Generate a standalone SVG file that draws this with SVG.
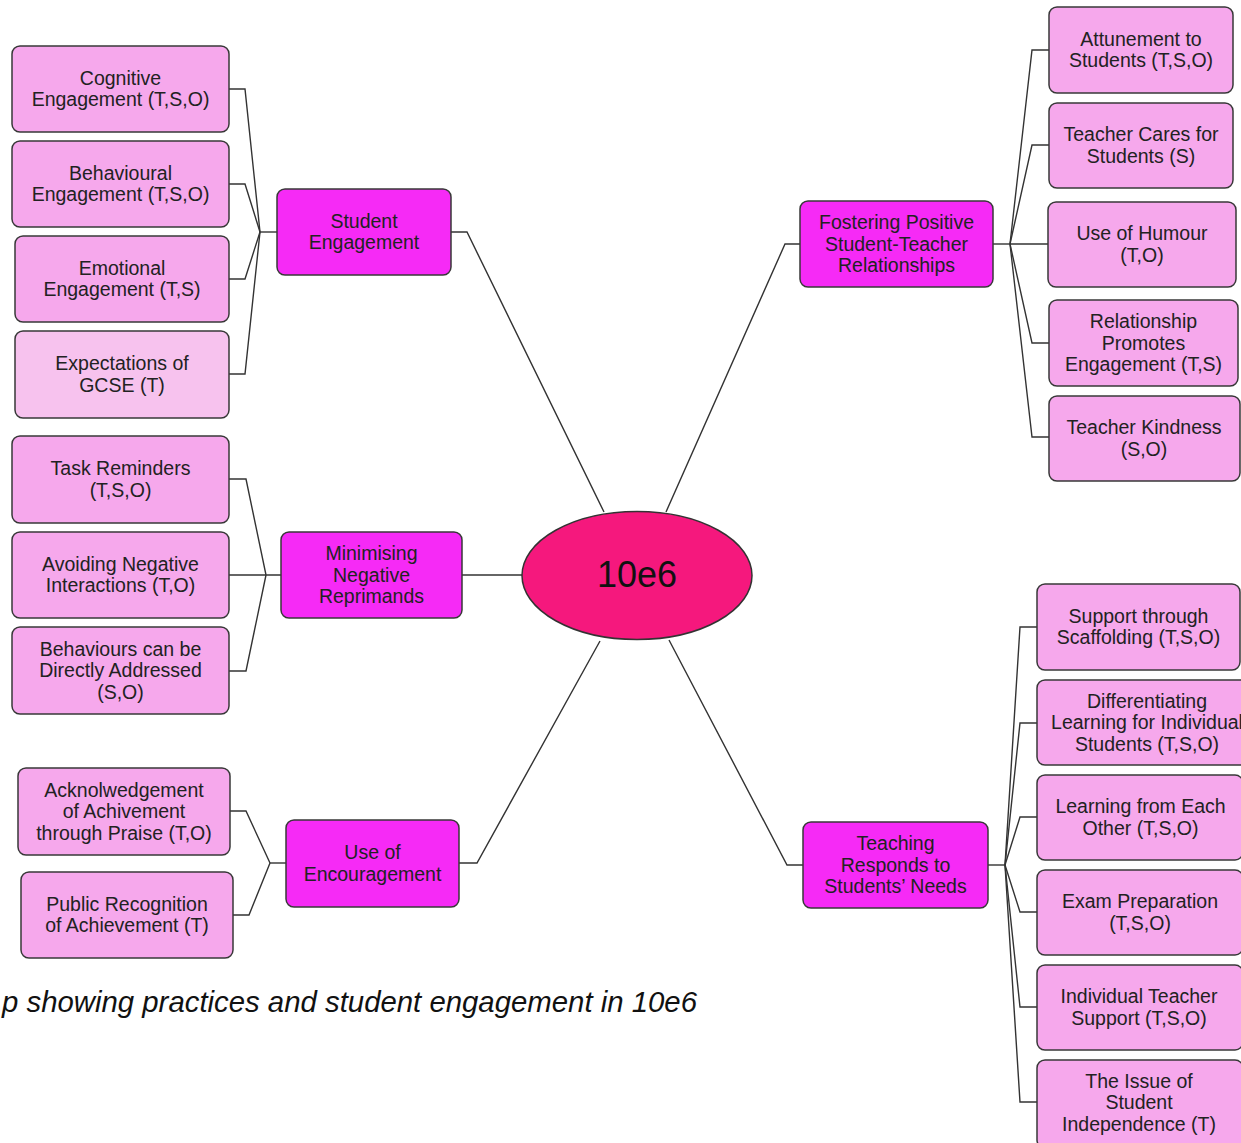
<svg xmlns="http://www.w3.org/2000/svg" width="1241" height="1143" viewBox="0 0 1241 1143">
<style>
.leaf{fill:#f6a8ec;stroke:#383838;stroke-width:1.5}
.leaf2{fill:#f7c2ee;stroke:#383838;stroke-width:1.5}
.main{fill:#f62af6;stroke:#383838;stroke-width:1.5}
.t{font-family:"Liberation Sans",Arial,Helvetica,sans-serif;font-size:19.5px;fill:#222;text-anchor:middle}
.conn path{fill:none;stroke:#333;stroke-width:1.4}
</style>
<rect width="1241" height="1143" fill="#ffffff"/>
<g class="conn" id="connectors">
<path d="M229,89 H245 L260,232"/>
<path d="M229,184 H245 L260,232"/>
<path d="M229,279 H245 L260,232"/>
<path d="M229,374 H245 L260,232"/>
<path d="M260,232 H277"/>
<path d="M451,232 H467 L604,512"/>
<path d="M993,244 H1010"/>
<path d="M1010,244 L1032,50 H1049"/>
<path d="M1010,244 L1032,145 H1049"/>
<path d="M1010,244 H1048"/>
<path d="M1010,244 L1032,343 H1049"/>
<path d="M1010,244 L1032,437 H1049"/>
<path d="M800,244 H785 L666,512"/>
<path d="M229,479 H246 L266,575"/>
<path d="M229,575 H281"/>
<path d="M229,671 H246 L266,575"/>
<path d="M462,575 H522"/>
<path d="M230,811 H246 L270,863"/>
<path d="M233,915 H249 L270,863"/>
<path d="M270,863 H286"/>
<path d="M459,863 H477 L600,641"/>
<path d="M988,865 H1005"/>
<path d="M1005,865 L1020,627 H1037"/>
<path d="M1005,865 L1020,723 H1037"/>
<path d="M1005,865 L1020,817 H1037"/>
<path d="M1005,865 L1020,912 H1037"/>
<path d="M1005,865 L1020,1007 H1037"/>
<path d="M1005,865 L1020,1102 H1037"/>
<path d="M803,865 H787 L669,640"/>
</g>
<g id="center">
<ellipse cx="637" cy="575.5" rx="115" ry="64" fill="#f5187d" stroke="#333" stroke-width="1.5"/>
<text x="637" y="587" font-family="Liberation Sans,Arial,sans-serif" font-size="36" text-anchor="middle" fill="#111">10e6</text>
</g>
<g id="n-cognitive"><rect class="leaf" x="12" y="46" width="217" height="86" rx="8"/><text class="t" x="120.5" y="84.5">Cognitive<tspan x="120.5" dy="21.5">Engagement (T,S,O)</tspan></text></g>
<g id="n-behavioural"><rect class="leaf" x="12" y="141" width="217" height="86" rx="8"/><text class="t" x="120.5" y="179.5">Behavioural<tspan x="120.5" dy="21.5">Engagement (T,S,O)</tspan></text></g>
<g id="n-emotional"><rect class="leaf" x="15" y="236" width="214" height="86" rx="8"/><text class="t" x="122" y="274.5">Emotional<tspan x="122" dy="21.5">Engagement (T,S)</tspan></text></g>
<g id="n-expectations"><rect class="leaf2" x="15" y="331" width="214" height="87" rx="8"/><text class="t" x="122" y="370">Expectations of<tspan x="122" dy="21.5">GCSE (T)</tspan></text></g>
<g id="n-student-engagement"><rect class="main" x="277" y="189" width="174" height="86" rx="8"/><text class="t" x="364" y="227.5">Student<tspan x="364" dy="21.5">Engagement</tspan></text></g>
<g id="n-attunement"><rect class="leaf" x="1049" y="7" width="184" height="86" rx="8"/><text class="t" x="1141" y="45.5">Attunement to<tspan x="1141" dy="21.5">Students (T,S,O)</tspan></text></g>
<g id="n-cares"><rect class="leaf" x="1049" y="103" width="184" height="85" rx="8"/><text class="t" x="1141" y="141">Teacher Cares for<tspan x="1141" dy="21.5">Students (S)</tspan></text></g>
<g id="n-humour"><rect class="leaf" x="1048" y="202" width="188" height="85" rx="8"/><text class="t" x="1142" y="240">Use of Humour<tspan x="1142" dy="21.5">(T,O)</tspan></text></g>
<g id="n-relationship"><rect class="leaf" x="1049" y="300" width="189" height="86" rx="8"/><text class="t" x="1143.5" y="328">Relationship<tspan x="1143.5" dy="21.5">Promotes</tspan><tspan x="1143.5" dy="21.5">Engagement (T,S)</tspan></text></g>
<g id="n-kindness"><rect class="leaf" x="1049" y="396" width="191" height="85" rx="8"/><text class="t" x="1144" y="434">Teacher Kindness<tspan x="1144" dy="21.5">(S,O)</tspan></text></g>
<g id="n-fostering"><rect class="main" x="800" y="201" width="193" height="86" rx="8"/><text class="t" x="896.5" y="229">Fostering Positive<tspan x="896.5" dy="21.5">Student-Teacher</tspan><tspan x="896.5" dy="21.5">Relationships</tspan></text></g>
<g id="n-task"><rect class="leaf" x="12" y="436" width="217" height="87" rx="8"/><text class="t" x="120.5" y="475">Task Reminders<tspan x="120.5" dy="21.5">(T,S,O)</tspan></text></g>
<g id="n-avoiding"><rect class="leaf" x="12" y="532" width="217" height="86" rx="8"/><text class="t" x="120.5" y="570.5">Avoiding Negative<tspan x="120.5" dy="21.5">Interactions (T,O)</tspan></text></g>
<g id="n-behaviours"><rect class="leaf" x="12" y="627" width="217" height="87" rx="8"/><text class="t" x="120.5" y="655.5">Behaviours can be<tspan x="120.5" dy="21.5">Directly Addressed</tspan><tspan x="120.5" dy="21.5">(S,O)</tspan></text></g>
<g id="n-minimising"><rect class="main" x="281" y="532" width="181" height="86" rx="8"/><text class="t" x="371.5" y="560">Minimising<tspan x="371.5" dy="21.5">Negative</tspan><tspan x="371.5" dy="21.5">Reprimands</tspan></text></g>
<g id="n-acknowledgement"><rect class="leaf" x="18" y="768" width="212" height="87" rx="8"/><text class="t" x="124" y="796.5">Acknolwedgement<tspan x="124" dy="21.5">of Achivement</tspan><tspan x="124" dy="21.5">through Praise (T,O)</tspan></text></g>
<g id="n-public"><rect class="leaf" x="21" y="872" width="212" height="86" rx="8"/><text class="t" x="127" y="910.5">Public Recognition<tspan x="127" dy="21.5">of Achievement (T)</tspan></text></g>
<g id="n-encouragement"><rect class="main" x="286" y="820" width="173" height="87" rx="8"/><text class="t" x="372.5" y="859">Use of<tspan x="372.5" dy="21.5">Encouragement</tspan></text></g>
<g id="n-teaching"><rect class="main" x="803" y="822" width="185" height="86" rx="8"/><text class="t" x="895.5" y="850">Teaching<tspan x="895.5" dy="21.5">Responds to</tspan><tspan x="895.5" dy="21.5">Students’ Needs</tspan></text></g>
<g id="n-support"><rect class="leaf" x="1037" y="584" width="203" height="86" rx="8"/><text class="t" x="1138.5" y="622.5">Support through<tspan x="1138.5" dy="21.5">Scaffolding (T,S,O)</tspan></text></g>
<g id="n-differentiating"><rect class="leaf" x="1037" y="680" width="220" height="85" rx="8"/><text class="t" x="1147" y="707.5">Differentiating<tspan x="1147" dy="21.5">Learning for Individual</tspan><tspan x="1147" dy="21.5">Students (T,S,O)</tspan></text></g>
<g id="n-learning"><rect class="leaf" x="1037" y="775" width="206" height="85" rx="8"/><text class="t" x="1140.5" y="813">Learning from Each<tspan x="1140.5" dy="21.5">Other (T,S,O)</tspan></text></g>
<g id="n-exam"><rect class="leaf" x="1037" y="870" width="206" height="85" rx="8"/><text class="t" x="1140" y="908">Exam Preparation<tspan x="1140" dy="21.5">(T,S,O)</tspan></text></g>
<g id="n-individual"><rect class="leaf" x="1037" y="965" width="206" height="85" rx="8"/><text class="t" x="1139" y="1003">Individual Teacher<tspan x="1139" dy="21.5">Support (T,S,O)</tspan></text></g>
<g id="n-independence"><rect class="leaf" x="1037" y="1060" width="206" height="88" rx="8"/><text class="t" x="1139" y="1087.5">The Issue of<tspan x="1139" dy="21.5">Student</tspan><tspan x="1139" dy="21.5">Independence (T)</tspan></text></g>
<text x="2" y="1012" font-family="Liberation Sans,Arial,sans-serif" font-style="italic" font-size="29" fill="#111" textLength="695" lengthAdjust="spacingAndGlyphs">p showing practices and student engagement in 10e6</text>
</svg>
